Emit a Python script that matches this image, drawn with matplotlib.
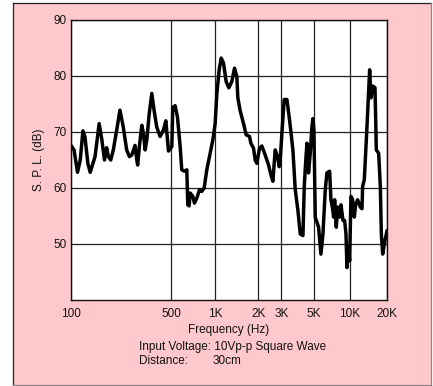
import numpy as np
import matplotlib
matplotlib.use("Agg")
import matplotlib.pyplot as plt
from matplotlib.patches import Rectangle
from matplotlib.lines import Line2D

plt.rcParams['font.family'] = ['Liberation Sans', 'DejaVu Sans']

# ---- data ----
freq_hz = [100, 105, 111, 116, 121, 125, 131, 136, 147, 157, 164, 171, 177, 182, 189, 197,
           208, 219, 231, 244, 255, 265, 279, 287, 291, 299, 311, 319, 328, 337, 350, 365,
           379, 395, 417, 440, 457, 469, 477, 503, 511, 530, 550, 574, 589, 614, 638, 648,
           662, 673, 702, 720, 748, 780, 809, 840, 876, 924, 964, 1000, 1027, 1067, 1102,
           1144, 1194, 1246, 1308, 1366, 1418, 1441, 1496, 1579, 1648, 1739, 1777, 1855,
           1905, 1957, 2047, 2133, 2262, 2400, 2500, 2590, 2698, 2812, 2896, 2948, 3032,
           3144, 3282, 3424, 3607, 3743, 3904, 4051, 4227, 4315, 4407, 4502, 4619, 4743,
           4869, 4948, 5032, 5161, 5500, 5751, 5976, 6247, 6449, 6786, 6962, 7186, 7327,
           7465, 7706, 7903, 8212, 8425, 8753, 9035, 9268, 9444, 9750, 9937, 10189, 10512,
           10845, 11119, 11544, 12139, 12524, 12677, 13080, 13494, 13747, 14097, 14454,
           14822, 15389, 15977, 16377, 17113, 17654, 17988, 18448, 19029, 19748, 20000]
spl_db = [67.6, 66.8, 62.8, 65.0, 70.2, 69.2, 64.4, 62.8, 65.6, 71.5, 68.6, 65.0, 67.2, 65.6,
          65.0, 66.8, 70.35, 73.9, 70.9, 66.8, 65.6, 65.9, 67.6, 65.0, 64.1, 67.4, 71.2, 69.8,
          66.8, 68.6, 73.2, 76.9, 73.8, 70.9, 69.2, 70.35, 72.0, 68.6, 66.6, 67.4, 74.4, 74.7,
          72.7, 67.4, 63.25, 63.0, 63.25, 57.0, 56.8, 59.1, 58.5, 57.3, 58.2, 59.7, 59.4,
          60.0, 63.25, 66.2, 68.6, 71.5, 76.7, 81.1, 83.2, 82.3, 79.0, 77.9, 79.0, 81.4,
          79.9, 76.1, 73.8, 71.5, 69.5, 69.2, 68.0, 67.1, 65.0, 64.4, 67.1, 67.5, 65.9,
          64.1, 62.4, 61.2, 66.8, 65.6, 63.8, 65.0, 69.8, 75.8, 75.8, 72.1, 66.8, 59.7,
          56.0, 51.8, 51.5, 60.3, 64.4, 68.0, 62.7, 66.2, 70.9, 72.4, 70.35, 54.8, 53.0,
          48.2, 51.8, 59.7, 62.7, 63.0, 57.9, 56.3, 54.8, 57.9, 53.0, 56.6, 54.8, 57.0,
          54.2, 54.2, 51.8, 45.8, 49.4, 47.0, 58.5, 57.9, 54.8, 57.0, 57.9, 56.6, 56.3,
          60.3, 61.5, 67.4, 70.9, 76.1, 81.1, 76.1, 78.2, 77.9, 66.8, 66.2, 60.3, 51.8,
          48.2, 50.0, 51.8, 52.4]

x_ticks = [100, 500, 1000, 2000, 3000, 5000, 10000, 20000]
x_tick_labels = ['100', '500', '1K', '2K', '3K', '5K', '10K', '20K']
y_ticks = [50, 60, 70, 80, 90]
y_tick_labels = ['50', '60', '70', '80', '90']

# chart's frequency axis spacing (slightly non-uniform log grid as printed)
_axis_logf = np.log10(np.array(x_ticks, dtype=float))
_axis_pos = np.array([213, 514, 645, 774, 843, 940, 1049, 1160], dtype=float)


def fwd(f):
    f = np.clip(np.asarray(f, dtype=float), 1e-3, None)
    return np.interp(np.log10(f), _axis_logf, _axis_pos)


def inv(p):
    return 10 ** np.interp(np.asarray(p, dtype=float), _axis_pos, _axis_logf)


W, H = 433, 386
fig = plt.figure(figsize=(W / 100, H / 100), dpi=100)
fig.patch.set_facecolor('white')

pink = '#ffc8cc'
fig.patches.append(Rectangle((13 / W, 1 - 385 / H), (431 - 13) / W, (385 - 3) / H,
                             transform=fig.transFigure, facecolor=pink, edgecolor='none', zorder=-5))
for xs, ys, c in [([13, 13], [3, 385], '#222222'), ([13, 431], [3, 3], '#222222'),
                  ([431, 431], [3, 385], '#888888'), ([13, 431], [385, 385], '#888888')]:
    fig.lines.append(Line2D([x / W for x in xs], [1 - y / H for y in ys],
                            transform=fig.transFigure, color=c, lw=0.9, zorder=-4))

ax = fig.add_axes([71 / W, 1 - 300 / H, (387 - 71) / W, (300 - 20) / H])
ax.set_zorder(2)
ax.set_facecolor('white')
ax.set_xscale('function', functions=(fwd, inv))
ax.set_xlim(100, 20000)
ax.set_ylim(40, 90)

ax.plot(freq_hz, spl_db, color='black', lw=2.5, solid_joinstyle='round',
        solid_capstyle='round', zorder=3)

ax.set_xticks(x_ticks)
ax.set_xticklabels(x_tick_labels)
ax.set_yticks(y_ticks)
ax.set_yticklabels(y_tick_labels)
ax.minorticks_off()
ax.tick_params(axis='both', length=0, labelsize=8.5, colors='#111111')
ax.tick_params(axis='x', pad=5.5)
ax.tick_params(axis='y', pad=3)
ax.grid(True, color='#222222', lw=0.9)
ax.set_axisbelow(True)
for s in ax.spines.values():
    s.set_color('#111111')
    s.set_linewidth(1.0)

ax.set_xlabel('Frequency (Hz)', fontsize=8.5, labelpad=3, color='#111111')
ax.set_ylabel('S. P. L. (dB)', fontsize=8.5, labelpad=6, color='#111111')

fig.text(139 / W, 1 - 347 / H, 'Input Voltage: 10Vp-p Square Wave', fontsize=8.5,
         va='center', ha='left', color='#111111')
fig.text(139 / W, 1 - 361 / H, 'Distance:', fontsize=8.5, va='center', ha='left', color='#111111')
fig.text(213 / W, 1 - 361 / H, '30cm', fontsize=8.5, va='center', ha='left', color='#111111')

fig.savefig('out.png', dpi=100, facecolor=fig.get_facecolor())
